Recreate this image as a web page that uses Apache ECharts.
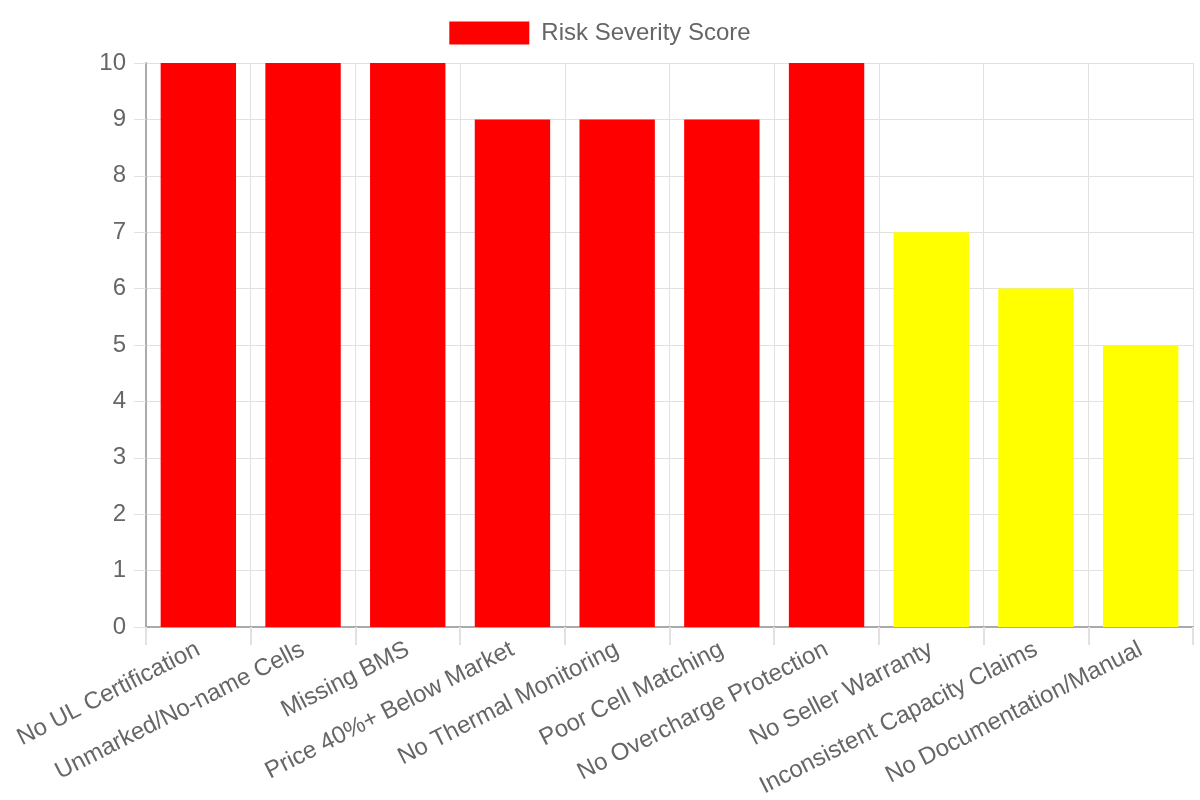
<!DOCTYPE html>
<html>
<head>
<meta charset="utf-8">
<script src="https://cdn.jsdelivr.net/npm/echarts@6/dist/echarts.min.js"></script>
<style>
  html, body { margin: 0; padding: 0; background: #fff; }
  #chart { width: 1200px; height: 800px; }
</style>
</head>
<body>
<div id="chart"></div>
<script>
// risk factors and their scores
var riskFactors = ['No UL Certification', 'Unmarked/No-name Cells', 'Missing BMS', 'Price 40%+ Below Market',
    'No Thermal Monitoring', 'Poor Cell Matching', 'No Overcharge Protection', 'No Seller Warranty',
    'Inconsistent Capacity Claims', 'No Documentation/Manual'];
var severityScores = [10, 10, 10, 9, 9, 9, 10, 7, 6, 5];
var seriesName = 'Risk Severity Score';

var textColor = '#666';
var gridColor = '#e1e1e1';
var axisColor = '#aaa';
var fontName = 'Liberation Sans, Arial, sans-serif';

var barColor = function (params) {
    return params.value >= 8 ? '#ff0000' : '#ffff00';
};

var option = {
    animation: false,
    textStyle: { fontFamily: fontName },
    legend: {
        top: 16,
        left: 'center',
        itemWidth: 80,
        itemHeight: 23,
        itemGap: 10,
        icon: 'rect',
        textStyle: { color: textColor, fontSize: 24, fontFamily: fontName, padding: [0, 0, 0, 7] },
        data: [{ name: seriesName, itemStyle: { color: '#ff0000' } }]
    },
    grid: {
        left: 146,
        right: 7,
        top: 63,
        bottom: 171,
        containLabel: false
    },
    xAxis: {
        type: 'category',
        data: riskFactors,
        boundaryGap: true,
        axisLine: { show: true, lineStyle: { color: axisColor, width: 2 } },
        axisTick: { show: true, length: 18, lineStyle: { color: gridColor, width: 2 } },
        splitLine: { show: true, lineStyle: { color: gridColor, width: 1 } },
        axisLabel: {
            interval: 0,
            rotate: 27,
            margin: 21,
            color: textColor,
            fontSize: 24,
            fontFamily: fontName
        }
    },
    yAxis: {
        type: 'value',
        min: 0,
        max: 10,
        interval: 1,
        axisLine: { show: true, lineStyle: { color: axisColor, width: 2 } },
        axisTick: { show: true, length: 12, lineStyle: { color: gridColor, width: 1 } },
        splitLine: { show: true, lineStyle: { color: gridColor, width: 1 } },
        axisLabel: {
            margin: 20,
            color: textColor,
            fontSize: 24,
            fontFamily: fontName
        }
    },
    series: [
        {
            name: seriesName,
            type: 'bar',
            data: severityScores,
            barCategoryGap: '28%',
            itemStyle: { color: barColor }
        }
    ]
};

var chart = echarts.init(document.getElementById('chart'));
chart.setOption(option);
window.addEventListener('resize', chart.resize);
</script>
</body>
</html>
